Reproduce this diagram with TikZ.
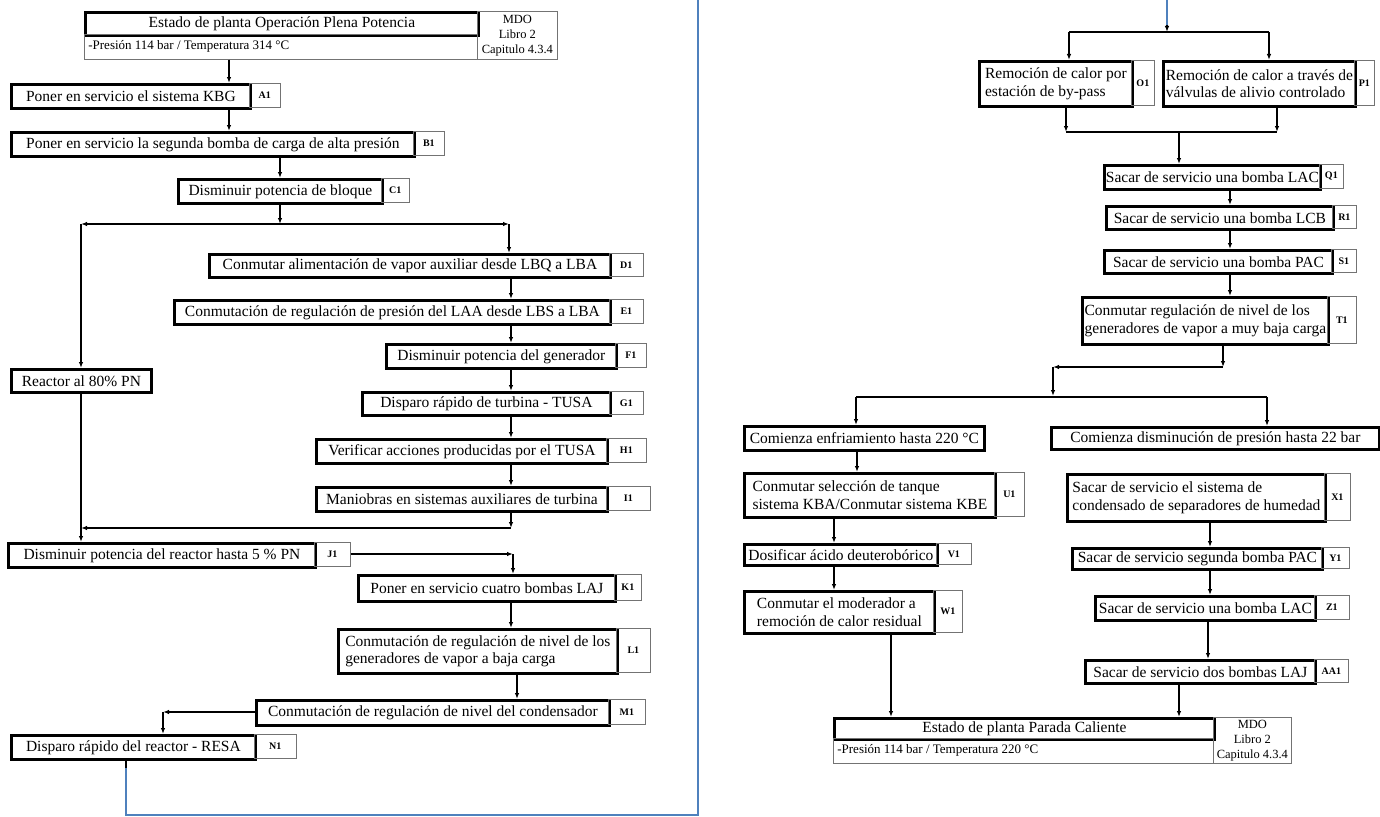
\documentclass[tikz,border=0pt]{standalone}
\usepackage{fontspec}
\setmainfont{Liberation Serif}
\usetikzlibrary{arrows.meta}
\definecolor{wordblue}{RGB}{79,129,189}
\newcommand{\mkbox}[7]{\node[#6, minimum width={(#4-#2)*1pt}, minimum height={(#5-#3)*1pt}] (#1) at (#2,#3) {#7};}
\tikzset{
  mbox/.style={draw, line width=2.8pt, anchor=north west, inner xsep=1.5pt, inner ysep=0pt, align=left, font=\fontsize{15.5}{17.5}\selectfont},
  lbox/.style={draw=black!55, line width=0.7pt, anchor=north west, inner sep=0pt, font=\fontsize{10}{12}\selectfont\bfseries},
  tbox/.style={draw=black!55, line width=0.7pt, anchor=north west, inner sep=0pt},
  conn/.style={line width=1.4pt, -{Latex[length=6pt,width=4.5pt]}},
  seg/.style={line width=1.4pt},
  bline/.style={draw=wordblue, line width=2.2pt}
}
\begin{document}
\begin{tikzpicture}[x=1pt,y=-1pt]
\useasboundingbox[fill=white] (0,0) rectangle (1380,816);
% ---------------- left column ----------------
\mkbox{TOPH}{84}{11}{477}{34}{mbox}{Estado de planta Operación Plena Potencia}
\mkbox{TOPS}{84}{34}{477}{59}{tbox,font=\fontsize{13}{14}\selectfont}{\makebox[385pt][l]{-Presión 114 bar / Temperatura 314 °C}}
\mkbox{TOPM}{477}{11}{557}{59}{tbox,align=center,font=\fontsize{12.5}{15}\selectfont}{MDO\\Libro 2\\Capitulo 4.3.4}
\mkbox{A1}{10}{83}{249}{107}{mbox}{Poner en servicio el sistema KBG}
\mkbox{A1l}{249}{83}{280}{107}{lbox}{A1}
\mkbox{B1}{10}{131}{413}{155}{mbox}{Poner en servicio la segunda bomba de carga de alta presión}
\mkbox{B1l}{413}{131}{444}{155}{lbox}{B1}
\mkbox{C1}{177}{178}{381}{202}{mbox}{Disminuir potencia de bloque}
\mkbox{C1l}{381}{178}{409}{202}{lbox}{C1}
\mkbox{D1}{208}{253}{609}{276}{mbox}{Conmutar alimentación de vapor auxiliar desde LBQ a LBA}
\mkbox{D1l}{609}{253}{643}{276}{lbox}{D1}
\mkbox{E1}{173}{299}{609}{323}{mbox}{Conmutación de regulación de presión del LAA desde LBS a LBA}
\mkbox{E1l}{609}{299}{643}{323}{lbox}{E1}
\mkbox{F1}{385}{343}{615}{367}{mbox}{Disminuir potencia del generador}
\mkbox{F1l}{615}{343}{646}{367}{lbox}{F1}
\mkbox{R80}{10}{368}{150}{391}{mbox}{Reactor al 80\% PN}
\mkbox{G1}{361}{391}{609}{414}{mbox}{Disparo rápido de turbina - TUSA}
\mkbox{G1l}{609}{391}{643}{414}{lbox}{G1}
\mkbox{H1}{315}{438}{606}{462}{mbox}{Verificar acciones producidas por el TUSA}
\mkbox{H1l}{606}{438}{646}{462}{lbox}{H1}
\mkbox{I1}{315}{486}{606}{510}{mbox}{Maniobras en sistemas auxiliares de turbina}
\mkbox{I1l}{606}{486}{650}{510}{lbox}{I1}
\mkbox{J1}{7}{542}{314}{566}{mbox}{Disminuir potencia del reactor hasta 5 \% PN}
\mkbox{J1l}{314}{542}{350}{566}{lbox}{J1}
\mkbox{K1}{357}{574}{614}{600}{mbox}{Poner en servicio cuatro bombas LAJ}
\mkbox{K1l}{614}{574}{641}{600}{lbox}{K1}
\mkbox{L1}{337}{628}{616}{672}{mbox}{Conmutación de regulación de nivel de los\\generadores de vapor a baja carga}
\mkbox{L1l}{616}{628}{650}{672}{lbox}{L1}
\mkbox{M1}{255}{699}{608}{724}{mbox}{Conmutación de regulación de nivel del condensador}
\mkbox{M1l}{608}{699}{645}{724}{lbox}{M1}
\mkbox{N1}{10}{734}{254}{758}{mbox}{Disparo rápido del reactor - RESA}
\mkbox{N1l}{254}{734}{296}{758}{lbox}{N1}
% ---------------- right column ----------------
\mkbox{O1}{978}{60}{1131}{105}{mbox}{Remoción de calor por\\estación de by-pass}
\mkbox{O1l}{1131}{60}{1154}{105}{lbox}{O1}
\mkbox{P1}{1162}{60}{1354}{105}{mbox}{Remoción de calor a través de\\válvulas de alivio controlado}
\mkbox{P1l}{1354}{60}{1374}{105}{lbox}{P1}
\mkbox{Q1}{1103}{164}{1319}{188}{mbox}{Sacar de servicio una bomba LAC}
\mkbox{Q1l}{1319}{164}{1343}{188}{lbox}{Q1}
\mkbox{R1}{1105}{205}{1332}{228}{mbox}{Sacar de servicio una bomba LCB}
\mkbox{R1l}{1332}{205}{1356}{228}{lbox}{R1}
\mkbox{S1}{1103}{249}{1331}{272}{mbox}{Sacar de servicio una bomba PAC}
\mkbox{S1l}{1331}{249}{1356}{272}{lbox}{S1}
\mkbox{T1}{1081}{296}{1327}{343}{mbox}{Conmutar regulación de nivel de los\\generadores de vapor a muy baja carga}
\mkbox{T1l}{1327}{296}{1356}{343}{lbox}{T1}
\mkbox{CE}{743}{425}{983}{449}{mbox}{Comienza enfriamiento hasta 220 °C}
\mkbox{CP}{1050}{426}{1378}{448}{mbox}{Comienza disminución de presión hasta 22 bar}
\mkbox{U1}{743}{472}{994}{516}{mbox}{Conmutar selección de tanque\\sistema KBA/Conmutar sistema KBE}
\mkbox{U1l}{994}{472}{1024}{516}{lbox}{U1}
\mkbox{X1}{1066}{473}{1324}{520}{mbox}{Sacar de servicio el sistema de\\condensado de separadores de humedad}
\mkbox{X1l}{1324}{473}{1350}{520}{lbox}{X1}
\mkbox{V1}{743}{543}{936}{564}{mbox}{Dosificar ácido deuterobórico}
\mkbox{V1l}{936}{543}{971}{564}{lbox}{V1}
\mkbox{Y1}{1071}{547}{1321}{568}{mbox}{Sacar de servicio segunda bomba PAC}
\mkbox{Y1l}{1321}{547}{1349}{568}{lbox}{Y1}
\mkbox{W1}{743}{590}{933}{632}{mbox}{Conmutar el moderador a\\remoción de calor residual}
\mkbox{W1l}{933}{590}{962}{632}{lbox}{W1}
\mkbox{Z1}{1094}{595}{1314}{619}{mbox}{Sacar de servicio una bomba LAC}
\mkbox{Z1l}{1314}{595}{1349}{619}{lbox}{Z1}
\mkbox{AA1}{1084}{659}{1314}{682}{mbox}{Sacar de servicio dos bombas LAJ}
\mkbox{AA1l}{1314}{659}{1348}{682}{lbox}{AA1}
\mkbox{PCH}{833}{717}{1213}{738}{mbox}{Estado de planta Parada Caliente}
\mkbox{PCS}{833}{738}{1213}{763}{tbox,font=\fontsize{13}{14}\selectfont}{\makebox[372pt][l]{-Presión 114 bar / Temperatura 220 °C}}
\mkbox{PCM}{1213}{717}{1291}{763}{tbox,align=center,font=\fontsize{12.5}{15}\selectfont}{MDO\\Libro 2\\Capitulo 4.3.4}
% ---------------- left connectors ----------------
\draw[conn] (229,0 |- TOPS.south) -- (229,0 |- A1.north);
\draw[conn] (229,0 |- A1.south) -- (229,0 |- B1.north);
\draw[conn] (280,0 |- B1.south) -- (280,0 |- C1.north);
\coordinate (s1) at (280,224);
\coordinate (s1l) at (81,224);
\coordinate (s1r) at (509,224);
\draw[conn] (280,0 |- C1.south) -- (s1);
\draw[conn] (s1) -- (s1l);
\draw[conn] (s1l) -- (s1l |- R80.north);
\draw[conn] (s1) -- (s1r);
\draw[conn] (s1r) -- (s1r |- D1.north);
\draw[conn] (511,0 |- D1.south) -- (511,0 |- E1.north);
\draw[conn] (511,0 |- E1.south) -- (511,0 |- F1.north);
\draw[conn] (511,0 |- F1.south) -- (511,0 |- G1.north);
\draw[conn] (511,0 |- G1.south) -- (511,0 |- H1.north);
\draw[conn] (511,0 |- H1.south) -- (511,0 |- I1.north);
\coordinate (m1r) at (511,528);
\coordinate (m1l) at (81,528);
\draw[conn] (511,0 |- I1.south) -- (m1r);
\draw[conn] (m1r) -- (m1l);
\draw[conn] (81,0 |- R80.south) -- (81,0 |- J1.north);
\coordinate (jk) at (513,554);
\draw[conn] (J1l.east |- jk) -- (jk);
\draw[conn] (jk) -- (jk |- K1.north);
\draw[conn] (511,0 |- K1.south) -- (511,0 |- L1.north);
\draw[conn] (517,0 |- L1.south) -- (517,0 |- M1.north);
\coordinate (mn) at (163,712);
\draw[conn] (M1.west |- mn) -- (mn);
\draw[conn] (mn) -- (mn |- N1.north);
\coordinate (nb1) at (126,768);
\coordinate (nb2) at (126,815);
\coordinate (nb3) at (698,815);
\coordinate (nb4) at (698,0);
\draw[seg] (126,0 |- N1.south) -- (nb1);
\draw[bline] (nb1) -- (nb2) -- (nb3) -- (nb4);
% ---------------- right connectors ----------------
\coordinate (bt) at (1167,0);
\coordinate (bt2) at (1167,25);
\coordinate (t0) at (1167,32);
\draw[bline] (bt) -- (bt2);
\draw[conn] (bt2) -- (t0);
\coordinate (tl) at (1069,32);
\coordinate (tr) at (1269,32);
\draw[seg] (tl) -- (tr);
\draw[conn] (tl) -- (tl |- O1.north);
\draw[conn] (tr) -- (tr |- P1.north);
\coordinate (ml) at (1066,132);
\coordinate (mr) at (1277,132);
\coordinate (mq) at (1179,132);
\draw[conn] (ml |- O1.south) -- (ml);
\draw[conn] (mr |- P1.south) -- (mr);
\draw[seg] (ml) -- (mr);
\draw[conn] (mq) -- (mq |- Q1.north);
\draw[conn] (1230,0 |- Q1.south) -- (1230,0 |- R1.north);
\draw[conn] (1230,0 |- R1.south) -- (1230,0 |- S1.north);
\draw[conn] (1230,0 |- S1.south) -- (1230,0 |- T1.north);
\coordinate (ta) at (1223,367);
\coordinate (tb) at (1053,367);
\coordinate (tc) at (1053,396);
\draw[conn] (ta |- T1.south) -- (ta);
\draw[conn] (ta) -- (tb);
\draw[conn] (tb) -- (tc);
\coordinate (sl) at (856,397);
\coordinate (sr) at (1267,397);
\draw[seg] (sl) -- (sr);
\draw[conn] (sl) -- (sl |- CE.north);
\draw[conn] (sr) -- (sr |- CP.north);
\draw[conn] (857,0 |- CE.south) -- (857,0 |- U1.north);
\draw[conn] (834,0 |- U1.south) -- (834,0 |- V1.north);
\draw[conn] (834,0 |- V1.south) -- (834,0 |- W1.north);
\draw[conn] (891,0 |- W1.south) -- (891,0 |- PCH.north);
\draw[conn] (1210,0 |- X1.south) -- (1210,0 |- Y1.north);
\draw[conn] (1210,0 |- Y1.south) -- (1210,0 |- Z1.north);
\draw[conn] (1208,0 |- Z1.south) -- (1208,0 |- AA1.north);
\draw[conn] (1179,0 |- AA1.south) -- (1179,0 |- PCH.north);
\end{tikzpicture}
\end{document}
